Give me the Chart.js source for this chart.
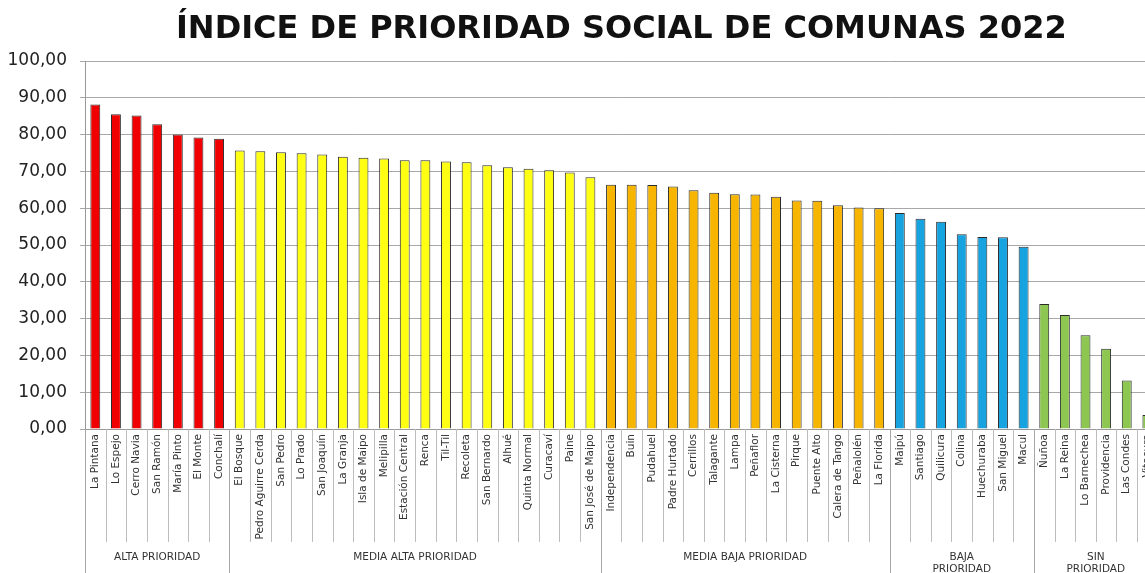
<!DOCTYPE html>
<html lang="es">
<head>
<meta charset="utf-8">
<title>Índice de Prioridad Social de Comunas 2022</title>
<script src="https://cdn.jsdelivr.net/npm/chart.js@4.4.1/dist/chart.umd.min.js"></script>
<style>
    html, body { margin: 0; padding: 0; background: #fff; overflow: hidden; }
    #wrap { width: 1165px; height: 573px; }
</style>
</head>
<body>
<div id="wrap"><canvas id="chart"></canvas></div>
<script>
const titulo = 'ÍNDICE DE PRIORIDAD SOCIAL DE COMUNAS 2022';

const comunas = [
    'La Pintana', 'Lo Espejo', 'Cerro Navia', 'San Ramón', 'María Pinto', 'El Monte', 'Conchalí',
    'El Bosque', 'Pedro Aguirre Cerda', 'San Pedro', 'Lo Prado', 'San Joaquín', 'La Granja',
    'Isla de Maipo', 'Melipilla', 'Estación Central', 'Renca', 'Til-Til', 'Recoleta',
    'San Bernardo', 'Alhué', 'Quinta Normal', 'Curacaví', 'Paine', 'San José de Maipo',
    'Independencia', 'Buin', 'Pudahuel', 'Padre Hurtado', 'Cerrillos', 'Talagante', 'Lampa',
    'Peñaflor', 'La Cisterna', 'Pirque', 'Puente Alto', 'Calera de Tango', 'Peñalolén', 'La Florida',
    'Maipú', 'Santiago', 'Quilicura', 'Colina', 'Huechuraba', 'San Miguel', 'Macul',
    'Ñuñoa', 'La Reina', 'Lo Barnechea', 'Providencia', 'Las Condes', 'Vitacura'
];

const indice = [
    88.2, 85.5, 85.2, 82.8, 80.0, 79.2, 78.9,
    75.7, 75.5, 75.2, 74.9, 74.6, 74.0,
    73.7, 73.5, 73.0, 73.0, 72.7, 72.5,
    71.7, 71.1, 70.7, 70.3, 69.7, 68.4,
    66.4, 66.4, 66.3, 65.9, 64.9, 64.2, 63.8,
    63.7, 63.1, 62.1, 62.0, 60.8, 60.2, 60.0,
    58.7, 57.1, 56.3, 52.9, 52.2, 52.1, 49.5,
    34.0, 31.0, 25.5, 21.8, 13.2, 3.8
];

// groups in order, with how many comunas each one has
const grupos = ['ALTA PRIORIDAD', 'MEDIA ALTA PRIORIDAD', 'MEDIA BAJA PRIORIDAD', 'BAJA\nPRIORIDAD', 'SIN\nPRIORIDAD'];
const comunasPorGrupo = [7, 18, 14, 7, 6];
const coloresGrupo = ['#f00000', '#ffff14', '#f7b500', '#17a2e0', '#8dc751'];

const yMin = 0;
const yMax = 100;
const yPaso = 10;

// one colour per bar from its group
const coloresBarras = [];
comunasPorGrupo.forEach((n, g) => {
    for (let i = 0; i < n; i++) coloresBarras.push(coloresGrupo[g]);
});

const FONT = '"DejaVu Sans", Verdana, sans-serif';

// title, category separators, group lines and group labels
const gruposPlugin = {
    id: 'grupos',
    afterDraw(chart) {
        const { ctx, chartArea } = chart;
        const x = chart.scales.x;
        const base = chartArea.bottom;
        const fondo = chart.height;

        ctx.save();

        // short separators between comunas
        ctx.strokeStyle = '#bdbdbd';
        ctx.lineWidth = 1;
        ctx.beginPath();
        for (let i = 1; i < comunas.length; i++) {
            const px = Math.round(x.getPixelForValue(i - 0.5)) + 0.5;
            ctx.moveTo(px, base);
            ctx.lineTo(px, base + 113);
        }
        ctx.stroke();

        // long group lines and labels
        ctx.strokeStyle = '#a6a6a6';
        ctx.fillStyle = '#333';
        ctx.font = '10.5px ' + FONT;
        ctx.textAlign = 'center';
        ctx.textBaseline = 'middle';
        let inicio = 0;
        comunasPorGrupo.forEach((n, g) => {
            const x0 = x.getPixelForValue(inicio - 0.5);
            const x1 = x.getPixelForValue(inicio + n - 0.5);
            const px = Math.round(x0) + 0.5;
            ctx.beginPath();
            ctx.moveTo(px, base);
            ctx.lineTo(px, fondo);
            ctx.stroke();
            const lineas = grupos[g].split('\n');
            lineas.forEach((t, k) => ctx.fillText(t, (x0 + x1) / 2, 557 + k * 12.5));
            inicio += n;
        });

        // title centred over the plot area
        ctx.fillStyle = '#111';
        ctx.font = 'bold 32px ' + FONT;
        ctx.textBaseline = 'middle';
        ctx.fillText(titulo, (chartArea.left + chartArea.right) / 2, 30);

        ctx.restore();
    }
};

new Chart(document.getElementById('chart'), {
    type: 'bar',
    data: {
        labels: comunas,
        datasets: [{
            label: 'Índice de Prioridad Social',
            data: indice,
            backgroundColor: coloresBarras,
            borderColor: '#2b2b2b',
            borderWidth: 1,
            categoryPercentage: 1,
            barPercentage: 0.48
        }]
    },
    options: {
        responsive: true,
        maintainAspectRatio: false,
        animation: false,
        layout: { padding: { top: 61, right: 2, bottom: 0, left: 0 } },
        plugins: {
            legend: { display: false },
            tooltip: { enabled: false }
        },
        scales: {
            x: {
                grid: { display: false, drawTicks: false },
                border: { display: true, color: '#999' },
                ticks: {
                    autoSkip: false,
                    minRotation: 90,
                    maxRotation: 90,
                    padding: 5,
                    color: '#333',
                    font: { family: FONT, size: 10.5 }
                },
                afterFit: (scale) => { scale.height = 144; }
            },
            y: {
                min: yMin,
                max: yMax,
                grid: { color: '#a8a8a8', tickLength: 5 },
                border: { display: true, color: '#999' },
                ticks: {
                    stepSize: yPaso,
                    padding: 13,
                    color: '#222',
                    font: { family: FONT, size: 17 },
                    callback: (v) => v.toFixed(2).replace('.', ',')
                },
                afterFit: (scale) => { scale.width = 85; }
            }
        }
    },
    plugins: [gruposPlugin]
});
</script>
</body>
</html>
